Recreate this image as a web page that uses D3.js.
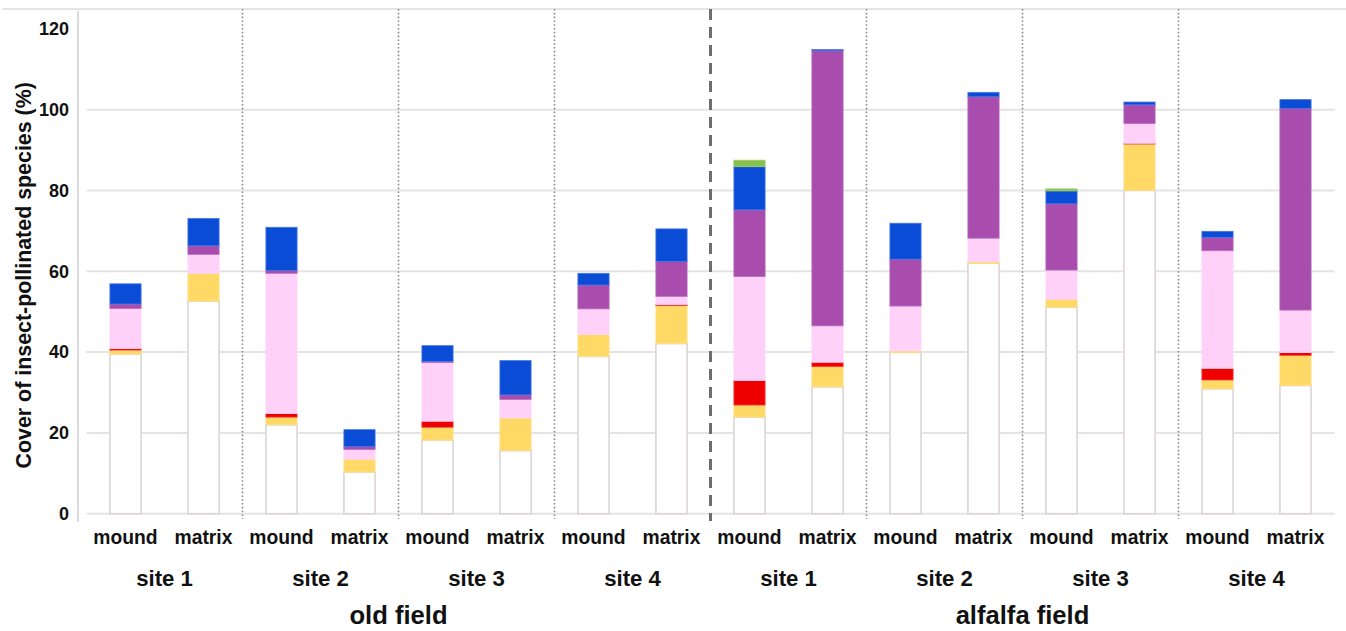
<!DOCTYPE html>
<html>
<head>
<meta charset="utf-8">
<script src="https://cdn.jsdelivr.net/npm/d3@7"></script>
<style>
  html, body { margin: 0; padding: 0; background: #fff; }
  svg { display: block; }
  text { font-family: "Liberation Sans", Arial, sans-serif; font-weight: bold; fill: #111; }
</style>
</head>
<body>
<svg id="chart" width="1346" height="631"></svg>
<script>
// Bars in drawing order: field > site > position
const fields = ["old field", "alfalfa field"];
const sites = ["site 1", "site 2", "site 3", "site 4"];
const positions = ["mound", "matrix"];

// Cover (%) of each species group, one entry per bar, stacked bottom to top
const whiteCover  = [39.5, 52.6, 22.0, 10.3, 18.2, 15.6, 38.9, 42.1, 23.9, 31.4, 39.9, 62.0, 51.1, 80.0, 30.9, 31.7];
const yellowCover = [1.0, 6.9, 1.9, 3.2, 3.2, 8.1, 5.5, 9.4, 3.0, 5.0, 0.4, 0.4, 2.0, 11.5, 2.2, 7.5];
const redCover    = [0.4, 0, 0.9, 0, 1.5, 0, 0, 0.3, 6.1, 1.1, 0, 0, 0, 0.2, 2.9, 0.7];
const pinkCover   = [9.9, 4.7, 34.7, 2.4, 14.5, 4.6, 6.3, 2.0, 25.7, 9.0, 11.1, 5.8, 7.2, 4.9, 29.1, 10.5];
const purpleCover = [1.1, 2.1, 0.7, 0.7, 0.3, 1.1, 5.9, 8.6, 16.5, 68.1, 11.6, 35.0, 16.4, 4.6, 3.3, 49.9];
const blueCover   = [5.0, 6.8, 10.7, 4.2, 3.9, 8.5, 2.9, 8.1, 10.7, 0.3, 8.9, 1.1, 3.2, 0.7, 1.5, 2.2];
const greenCover  = [0, 0, 0, 0, 0, 0, 0, 0, 1.6, 0, 0, 0, 0.5, 0, 0, 0];

const yTicks = [0, 20, 40, 60, 80, 100, 120];

const layerKeys = ["white", "yellow", "red", "pink", "purple", "blue", "green"];
const layerColors = {
  white: "#ffffff", yellow: "#ffd966", red: "#ee0000", pink: "#ffd0f8",
  purple: "#a84cae", blue: "#0a4cd6", green: "#86c04a"
};
const layerStrokes = {
  white: "#dcd5d5", yellow: "#ffe08a", red: "#f23c3c", pink: "#ffd8fa",
  purple: "#b56cbb", blue: "#4a78e6", green: "#9ccd6a"
};

// Build one row per bar
const layerValues = [whiteCover, yellowCover, redCover, pinkCover, purpleCover, blueCover, greenCover];
const rows = [];
fields.forEach((f, fi) => sites.forEach((s, si) => positions.forEach((p, pi) => {
  const i = fi * 8 + si * 2 + pi;
  const row = { id: `${f}|${s}|${p}`, field: f, site: s, position: p };
  layerKeys.forEach((k, li) => row[k] = layerValues[li][i]);
  rows.push(row);
})));

const svg = d3.select("#chart");
const plotLeft = 86.5, plotRight = 1334.5, plotTop = 28.9, plotBottom = 513.7;

const x = d3.scaleBand().domain(rows.map(d => d.id)).range([plotLeft, plotRight])
  .paddingInner(0.6).paddingOuter(0.3);
const y = d3.scaleLinear().domain([0, 120]).range([plotBottom, plotTop]);

// frame line along the top
svg.append("line").attr("x1", 2).attr("x2", 1346).attr("y1", 9).attr("y2", 9)
  .attr("stroke", "#e4e4e4").attr("stroke-width", 2);

// horizontal gridlines (no line at 120)
svg.append("g").selectAll("line").data(yTicks.filter(t => t < 120)).join("line")
  .attr("x1", plotLeft).attr("x2", plotRight)
  .attr("y1", d => y(d)).attr("y2", d => y(d))
  .attr("stroke", "#e6e3e3").attr("stroke-width", 2);

// y axis line
svg.append("line").attr("x1", 78).attr("x2", 78).attr("y1", 11).attr("y2", 522)
  .attr("stroke", "#dcdcdc").attr("stroke-width", 2);

// y tick labels
const yAxis = d3.axisLeft(y).tickValues(yTicks).tickSize(0).tickPadding(0);
const gy = svg.append("g").attr("transform", "translate(69,0)").call(yAxis);
gy.select(".domain").remove();
gy.selectAll("text").attr("font-size", 18).attr("font-family", "Liberation Sans, Arial, sans-serif")
  .attr("font-weight", "bold").attr("fill", "#111");

// y axis title
svg.append("text")
  .attr("transform", `translate(31,${(plotTop + plotBottom) / 2 + 4}) rotate(-90)`)
  .attr("text-anchor", "middle").attr("font-size", 21.4)
  .text("Cover of insect-pollinated species (%)");

// stacked bars
const stack = d3.stack().keys(layerKeys);
const series = stack(rows);
svg.append("g").selectAll("g").data(series).join("g")
  .attr("fill", d => layerColors[d.key])
  .attr("stroke", d => layerStrokes[d.key])
  .attr("stroke-width", d => d.key === "white" ? 1.6 : 0.8)
  .selectAll("rect").data(d => d.filter(s => s[1] - s[0] > 0)).join("rect")
  .attr("x", d => x(d.data.id))
  .attr("width", x.bandwidth())
  .attr("y", d => y(d[1]))
  .attr("height", d => y(d[0]) - y(d[1]));

// separators between sites (dotted) and fields (dashed)
const step = x.step();
const bandStart = i => plotLeft + i * step;
const sepIdx = [2, 4, 6, 10, 12, 14];
svg.append("g").selectAll("line").data(sepIdx).join("line")
  .attr("x1", d => bandStart(d)).attr("x2", d => bandStart(d))
  .attr("y1", 9).attr("y2", 519)
  .attr("stroke", "#8a8a8a").attr("stroke-width", 1.6).attr("stroke-dasharray", "1.6 2.2");
svg.append("line")
  .attr("x1", bandStart(8)).attr("x2", bandStart(8))
  .attr("y1", 9).attr("y2", 521)
  .attr("stroke", "#6e6e6e").attr("stroke-width", 3).attr("stroke-dasharray", "11 7");

// position labels
svg.append("g").selectAll("text").data(rows).join("text")
  .attr("x", d => x(d.id) + x.bandwidth() / 2).attr("y", 544)
  .attr("text-anchor", "middle").attr("font-size", 19.3)
  .text(d => d.position);

// site labels
const siteGroups = [];
fields.forEach((f, fi) => sites.forEach((s, si) => siteGroups.push({ label: s, i: fi * 8 + si * 2 })));
svg.append("g").selectAll("text").data(siteGroups).join("text")
  .attr("x", d => bandStart(d.i) + step).attr("y", 586)
  .attr("text-anchor", "middle").attr("font-size", 22.2)
  .text(d => d.label);

// field labels
svg.append("g").selectAll("text").data(fields).join("text")
  .attr("x", (d, i) => bandStart(i * 8) + step * 4).attr("y", 624)
  .attr("text-anchor", "middle").attr("font-size", 25.6)
  .text(d => d);
</script>
</body>
</html>
